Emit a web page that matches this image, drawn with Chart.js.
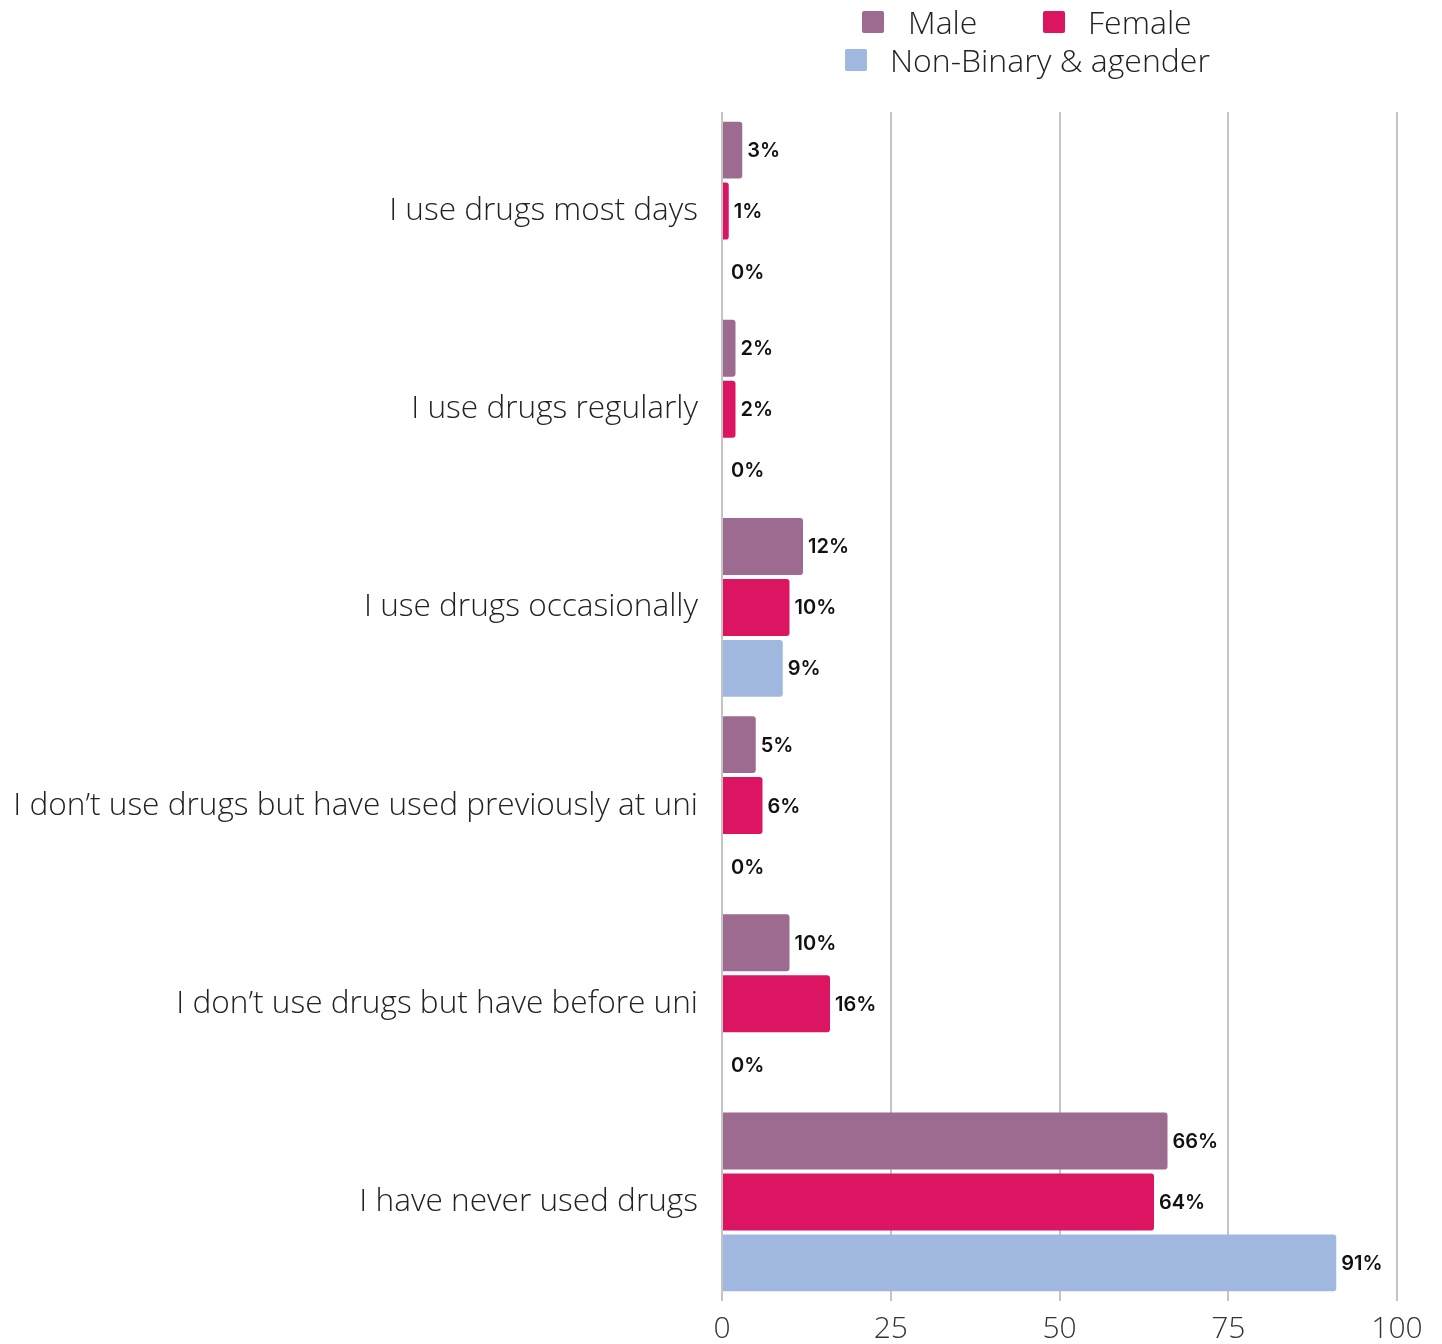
<!DOCTYPE html>
<html>
<head>
<meta charset="utf-8">
<script src="https://cdn.jsdelivr.net/npm/chart.js@4.4.1/dist/chart.umd.min.js"></script>
<style>
    body { margin: 0; background: #fff; }
    .wrap { position: relative; width: 1442px; height: 1344px; }
    .legend-item { position: absolute; display: flex; align-items: center; font-family: "Open Sans", sans-serif; font-weight: 300; font-size: 32px; color: #222; }
    .legend-item span.box { width: 22px; height: 22px; border-radius: 2px; display: inline-block; }
</style>
</head>
<body>
<div class="wrap">
    <div class="legend-item" style="left:862px; top:0px;"><span class="box" style="background:#9c6b8f"></span><span style="margin-left:24px">Male</span></div>
    <div class="legend-item" style="left:1043px; top:0px;"><span class="box" style="background:#dc1563"></span><span style="margin-left:23px">Female</span></div>
    <div class="legend-item" style="left:845px; top:38px;"><span class="box" style="background:#a0b8e0"></span><span style="margin-left:23px">Non-Binary &amp; agender</span></div>
    <canvas id="drugChart" width="1442" height="1344"></canvas>
</div>
<script>
// Kategori dan data (persen)
const categories = [
    "I use drugs most days",
    "I use drugs regularly",
    "I use drugs occasionally",
    "I don\u2019t use drugs but have used previously at uni",
    "I don\u2019t use drugs but have before uni",
    "I have never used drugs"
];
const maleValues = [3, 2, 12, 5, 10, 66];
const femaleValues = [1, 2, 10, 6, 16, 64];
const nonBinaryValues = [0, 0, 9, 0, 0, 91];
const xTicks = [0, 25, 50, 75, 100];

const labelFont = '"Open Sans", sans-serif';

// Plugin kecil untuk label nilai di ujung bar
const valueLabels = {
    id: 'valueLabels',
    afterDatasetsDraw(chart) {
        const ctx = chart.ctx;
        ctx.save();
        ctx.font = '600 20px Inter, sans-serif';
        ctx.fillStyle = '#111';
        ctx.textBaseline = 'middle';
        chart.data.datasets.forEach((ds, i) => {
            const meta = chart.getDatasetMeta(i);
            meta.data.forEach((bar, j) => {
                const v = ds.data[j];
                const offset = v === 0 ? 9 : 5;
                ctx.fillText(v + '%', bar.x + offset, bar.y + 1);
            });
        });
        ctx.restore();
    }
};

const ctx = document.getElementById('drugChart').getContext('2d');
const drugChart = new Chart(ctx, {
    type: 'bar',
    data: {
        labels: categories,
        datasets: [
            { label: 'Male', data: maleValues, backgroundColor: '#9c6b8f' },
            { label: 'Female', data: femaleValues, backgroundColor: '#dc1563' },
            { label: 'Non-Binary & agender', data: nonBinaryValues, backgroundColor: '#a0b8e0' }
        ]
    },
    options: {
        indexAxis: 'y',
        responsive: false,
        animation: false,
        layout: { padding: { top: 112, right: 45, left: 0, bottom: 0 } },
        datasets: {
            bar: {
                categoryPercentage: 0.923,
                barPercentage: 0.934,
                borderRadius: 3,
                borderSkipped: 'start'
            }
        },
        plugins: {
            legend: { display: false },
            tooltip: { enabled: false }
        },
        scales: {
            x: {
                min: 0,
                max: 100,
                afterBuildTicks: scale => { scale.ticks = xTicks.map(v => ({ value: v })); },
                afterFit: scale => { scale.height = 43; },
                grid: { color: '#c4c4c4', lineWidth: 2, drawTicks: false },
                border: { display: false },
                ticks: {
                    padding: 10,
                    color: '#333',
                    font: { family: labelFont, size: 30, weight: 300 }
                }
            },
            y: {
                afterFit: scale => { scale.width = 722; },
                grid: { display: false },
                border: { display: false },
                ticks: {
                    padding: 16,
                    color: '#222',
                    font: { family: labelFont, size: 31.6, weight: 300 }
                }
            }
        }
    },
    plugins: [valueLabels]
});
</script>
</body>
</html>
